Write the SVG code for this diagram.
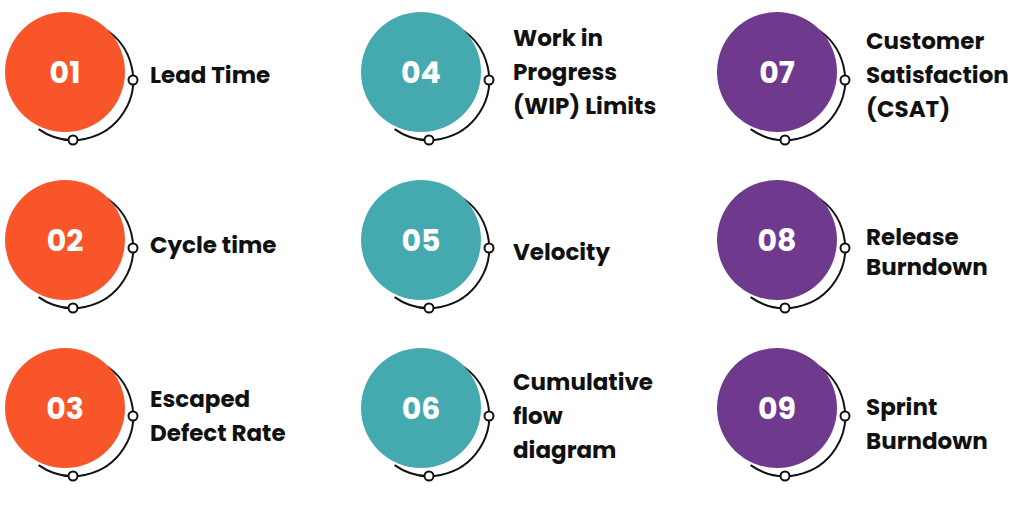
<svg xmlns="http://www.w3.org/2000/svg" width="1024" height="505" viewBox="0 0 1024 505">
<style>
.lbl{font-family:Poppins,"Inter","Noto Sans",sans-serif;font-weight:700;font-size:23px;fill:#111}
.num{font-family:Poppins,"Inter","Noto Sans",sans-serif;font-weight:700;font-size:30px;fill:#fff;text-anchor:middle}
.arc{fill:none;stroke:#111;stroke-width:2}
.dot{fill:#fff;stroke:#111;stroke-width:2}
.o{fill:#F9552A}.t{fill:#45A9B0}.p{fill:#6F3A8E}
</style>
<defs>
<g id="ring"><path class="arc" d="M38,-44 A60,60 0 1 1 -26.4,57.1"/><circle class="dot" cx="68" cy="8" r="4.5"/><circle class="dot" cx="8" cy="68" r="4.5"/></g>
</defs>
<g id="n01" transform="translate(65,72)"><use href="#ring"/><circle class="o" r="60"/><text class="num" y="11">01</text></g>
<g id="n02" transform="translate(65,240)"><use href="#ring"/><circle class="o" r="60"/><text class="num" y="11">02</text></g>
<g id="n03" transform="translate(65,408)"><use href="#ring"/><circle class="o" r="60"/><text class="num" y="11">03</text></g>
<g id="n04" transform="translate(421,72)"><use href="#ring"/><circle class="t" r="60"/><text class="num" y="11">04</text></g>
<g id="n05" transform="translate(421,240)"><use href="#ring"/><circle class="t" r="60"/><text class="num" y="11">05</text></g>
<g id="n06" transform="translate(421,408)"><use href="#ring"/><circle class="t" r="60"/><text class="num" y="11">06</text></g>
<g id="n07" transform="translate(777,72)"><use href="#ring"/><circle class="p" r="60"/><text class="num" y="11">07</text></g>
<g id="n08" transform="translate(777,240)"><use href="#ring"/><circle class="p" r="60"/><text class="num" y="11">08</text></g>
<g id="n09" transform="translate(777,408)"><use href="#ring"/><circle class="p" r="60"/><text class="num" y="11">09</text></g>
<g id="labels">
<text class="lbl" x="150" y="83">Lead Time</text>
<text class="lbl" x="150" y="253">Cycle time</text>
<text class="lbl" x="150" y="407">Escaped</text>
<text class="lbl" x="150" y="441">Defect Rate</text>
<text class="lbl" x="513" y="46">Work in</text>
<text class="lbl" x="513" y="80">Progress</text>
<text class="lbl" x="513" y="114">(WIP) Limits</text>
<text class="lbl" x="513" y="260">Velocity</text>
<text class="lbl" x="513" y="390">Cumulative</text>
<text class="lbl" x="513" y="424">flow</text>
<text class="lbl" x="513" y="458">diagram</text>
<text class="lbl" x="866" y="49">Customer</text>
<text class="lbl" x="866" y="83">Satisfaction</text>
<text class="lbl" x="866" y="117">(CSAT)</text>
<text class="lbl" x="866" y="245">Release</text>
<text class="lbl" x="866" y="275">Burndown</text>
<text class="lbl" x="866" y="415">Sprint</text>
<text class="lbl" x="866" y="449">Burndown</text>
</g>
</svg>
